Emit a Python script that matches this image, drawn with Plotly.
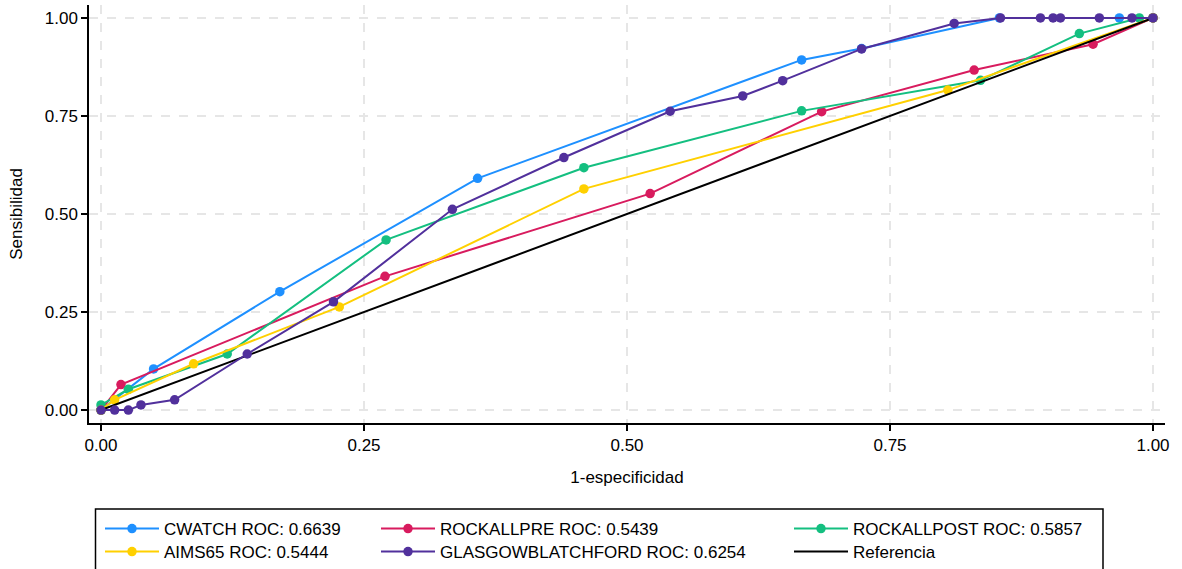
import plotly.graph_objects as go

# ---- data ----
cwatch_x = [0.0, 0.050, 0.170, 0.358, 0.666, 0.723, 0.854, 0.968, 1.0]
cwatch_y = [0.0, 0.105, 0.302, 0.591, 0.893, 0.922, 1.0, 1.0, 1.0]

rockpre_x = [0.0, 0.019, 0.270, 0.522, 0.685, 0.830, 0.943, 1.0]
rockpre_y = [0.0, 0.065, 0.341, 0.552, 0.761, 0.867, 0.933, 1.0]

rockpost_x = [0.0, 0.0, 0.026, 0.120, 0.271, 0.459, 0.666, 0.836, 0.930, 0.987, 1.0]
rockpost_y = [0.0, 0.013, 0.053, 0.143, 0.434, 0.618, 0.763, 0.841, 0.960, 1.0, 1.0]

aims_x = [0.0, 0.013, 0.088, 0.2265, 0.459, 0.805, 1.0]
aims_y = [0.0, 0.026, 0.118, 0.263, 0.564, 0.816, 1.0]

gbs_x = [0.0, 0.013, 0.026, 0.038, 0.070, 0.139, 0.221, 0.334, 0.440, 0.541,
         0.610, 0.648, 0.723, 0.811, 0.855, 0.893, 0.905, 0.912, 0.949, 0.980, 1.0]
gbs_y = [0.0, 0.0, 0.0, 0.013, 0.026, 0.143, 0.276, 0.512, 0.644, 0.762,
         0.801, 0.840, 0.921, 0.986, 1.0, 1.0, 1.0, 1.0, 1.0, 1.0, 1.0]

ref_x = [0.0, 1.0]
ref_y = [0.0, 1.0]

names = ["CWATCH ROC: 0.6639", "ROCKALLPRE ROC: 0.5439", "ROCKALLPOST ROC: 0.5857",
         "AIMS65 ROC: 0.5444", "GLASGOWBLATCHFORD ROC: 0.6254", "Referencia"]
tick_vals = [0.0, 0.25, 0.5, 0.75, 1.0]
tick_text = ["0.00", "0.25", "0.50", "0.75", "1.00"]

colors = {"cw": "#1E90FF", "rpre": "#D81B5E", "rpost": "#14BF80",
          "aims": "#FFD000", "gbs": "#51309C", "ref": "#000000"}

FONT = "Liberation Sans, Arial, sans-serif"
FS = 17

# plot area in pixels
W, H = 1182, 569
L, R, T, B = 89, 17, 5, 146
PW, PH = W - L - R, H - T - B


def px_x(p):
    return (p - L) / PW


def px_y(p):
    return (H - B - p) / PH


fig = go.Figure()

series = [
    ("cw", cwatch_x, cwatch_y, names[0], "legend", True),
    ("rpre", rockpre_x, rockpre_y, names[1], "legend2", True),
    ("rpost", rockpost_x, rockpost_y, names[2], "legend3", True),
    ("aims", aims_x, aims_y, names[3], "legend4", True),
    ("ref", ref_x, ref_y, names[5], "legend6", False),
    ("gbs", gbs_x, gbs_y, names[4], "legend5", True),
]

for key, xs, ys, nm, lg, mk in series:
    fig.add_trace(go.Scatter(
        x=xs, y=ys, name=nm, legend=lg,
        mode="lines+markers" if mk else "lines",
        line=dict(color=colors[key], width=2),
        marker=dict(color=colors[key], size=9.5),
    ))

# legend slots: (line start px, row center px)
slots = {
    "legend": (105, 529), "legend2": (381, 529), "legend3": (794, 529),
    "legend4": (105, 552), "legend5": (381, 552), "legend6": (794, 552),
}
legend_layout = {}
for lg, (lx, ly) in slots.items():
    legend_layout[lg] = dict(
        x=px_x(lx - 5), xanchor="left", y=px_y(ly), yanchor="middle",
        bgcolor="rgba(0,0,0,0)", borderwidth=0, itemwidth=54,
        font=dict(family=FONT, size=FS, color="#000000"),
    )

fig.update_layout(
    width=W, height=H,
    margin=dict(l=L, r=R, t=T, b=B, autoexpand=False),
    plot_bgcolor="white", paper_bgcolor="white",
    font=dict(family=FONT, size=FS, color="#000000"),
    showlegend=True,
    **legend_layout,
    shapes=[dict(type="rect", xref="paper", yref="paper",
                 x0=px_x(95.5), x1=px_x(1103), y0=px_y(509), y1=px_y(590),
                 line=dict(color="#000000", width=1.5), fillcolor="rgba(0,0,0,0)",
                 layer="above")],
)

fig.update_xaxes(
    range=[-0.0114, 1.0114], tickvals=tick_vals, ticktext=tick_text,
    showline=True, linecolor="#000000", linewidth=1.5,
    ticks="outside", ticklen=6, tickcolor="#000000", tickwidth=1.5,
    showgrid=True, gridcolor="#E6E6E6", griddash="dash", gridwidth=1.5,
    zeroline=False, tickfont=dict(family=FONT, size=FS, color="#000000"),
    title=dict(text="1-especificidad", font=dict(family=FONT, size=FS, color="#000000"), standoff=17),
)
fig.update_yaxes(
    range=[-0.033, 1.033], tickvals=tick_vals, ticktext=tick_text,
    showline=True, linecolor="#000000", linewidth=1.5,
    ticks="outside", ticklen=6, tickcolor="#000000", tickwidth=1.5,
    showgrid=True, gridcolor="#E6E6E6", griddash="dash", gridwidth=1.5,
    zeroline=False, tickfont=dict(family=FONT, size=FS, color="#000000"),
    title=dict(text="Sensibilidad", font=dict(family=FONT, size=FS, color="#000000"), standoff=18),
)

fig.write_html("out.html", config={"displayModeBar": False},
               post_script="document.body.style.margin='0';")
